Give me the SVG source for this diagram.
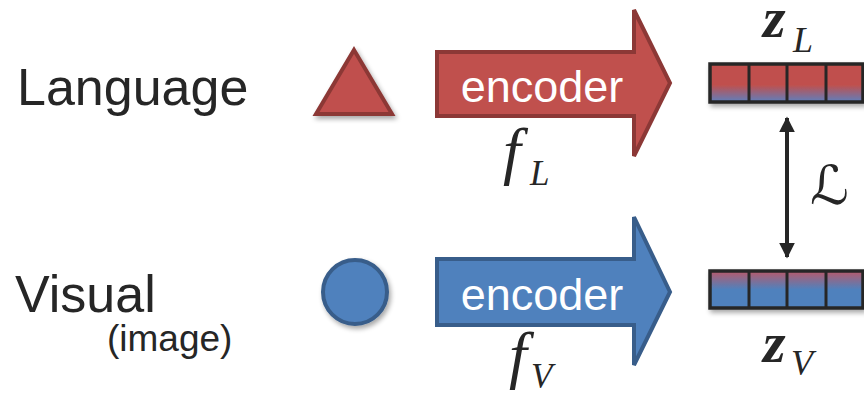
<svg xmlns="http://www.w3.org/2000/svg" width="864" height="395" viewBox="0 0 864 395">
<style>
.lbl{font-family:"Liberation Sans",Arial,sans-serif;fill:#262626}
.enc{font-family:"Liberation Sans",Arial,sans-serif;fill:#ffffff;font-size:45px;text-anchor:middle}
.math{font-family:"Liberation Serif","DejaVu Serif",serif;font-style:italic;fill:#262626}
.bold{font-family:"Liberation Serif","DejaVu Serif",serif;font-style:italic;font-weight:bold;fill:#262626}
.red{fill:#C0504D;stroke:#8C3836;stroke-width:4;stroke-linejoin:miter}
.blue{fill:#4F81BD;stroke:#385D8A;stroke-width:4;stroke-linejoin:miter}
.vec{stroke:#262626;stroke-width:3.5}
.cell{stroke:#262626;stroke-width:3}
</style>
<defs>
<filter id="sh" x="-20%" y="-20%" width="150%" height="160%">
<feGaussianBlur in="SourceAlpha" stdDeviation="2.5"/>
<feOffset dx="2" dy="3" result="b"/>
<feComponentTransfer><feFuncA type="linear" slope="0.35"/></feComponentTransfer>
<feMerge><feMergeNode/><feMergeNode in="SourceGraphic"/></feMerge>
</filter>
<linearGradient id="gL" x1="0" y1="0" x2="0" y2="1">
<stop offset="0" stop-color="#C0504D"/>
<stop offset="0.55" stop-color="#C0504D"/>
<stop offset="1" stop-color="#5E7FBE"/>
</linearGradient>
<linearGradient id="gV" x1="0" y1="0" x2="0" y2="1">
<stop offset="0" stop-color="#B85A6A"/>
<stop offset="0.5" stop-color="#4F81BD"/>
<stop offset="1" stop-color="#4F81BD"/>
</linearGradient>
<marker id="ah" viewBox="0 0 10 10" refX="9" refY="5" markerWidth="4" markerHeight="4" orient="auto-start-reverse">
<path d="M0,0 L10,5 L0,10 z" fill="#262626"/>
</marker>
</defs>

<g id="label-language"><text class="lbl" x="17" y="105" font-size="52">Language</text></g>
<g id="label-visual">
<text class="lbl" x="15" y="312" font-size="52">Visual</text>
<text class="lbl" x="107" y="351" font-size="37">(image)</text>
</g>

<g id="triangle"><polygon class="red" points="354,50 392,114 316,114" filter="url(#sh)"/></g>
<g id="circle"><circle class="blue" cx="355" cy="292" r="32" filter="url(#sh)"/></g>

<g id="encoder-L">
<path class="red" d="M437,52 L634,52 L634,10 L670,83 L634,156 L634,116 L437,116 Z"/>
<text class="enc" x="542" y="102">encoder</text>
<text class="math" x="503" y="172" font-size="64">f</text>
<text class="math" x="530" y="185" font-size="35">L</text>
</g>
<g id="encoder-V">
<path class="blue" d="M437,259 L634,259 L634,217 L670,292 L634,365 L634,325 L437,325 Z"/>
<text class="enc" x="542" y="310">encoder</text>
<text class="math" x="509" y="376" font-size="64">f</text>
<text class="math" x="531" y="388" font-size="35">V</text>
</g>

<g id="vector-zL">
<g filter="url(#sh)">
<rect class="vec" x="710" y="64" width="153" height="38" fill="url(#gL)"/>
</g>
<line class="cell" x1="749" y1="64" x2="749" y2="102"/>
<line class="cell" x1="787" y1="64" x2="787" y2="102"/>
<line class="cell" x1="826" y1="64" x2="826" y2="102"/>
<text class="bold" x="763" y="37" font-size="58">z</text>
<text class="math" x="793" y="52" font-size="36">L</text>
</g>
<g id="vector-zV">
<g filter="url(#sh)">
<rect class="vec" x="710" y="271" width="153" height="37" fill="url(#gV)"/>
</g>
<line class="cell" x1="749" y1="271" x2="749" y2="308"/>
<line class="cell" x1="787" y1="271" x2="787" y2="308"/>
<line class="cell" x1="826" y1="271" x2="826" y2="308"/>
<text class="bold" x="763" y="362" font-size="58">z</text>
<text class="math" x="791" y="375" font-size="36">V</text>
</g>

<g id="connectors">
<line x1="787" y1="118" x2="787" y2="257" stroke="#262626" stroke-width="4" marker-start="url(#ah)" marker-end="url(#ah)"/>
<text x="810" y="204" font-size="54" font-family="DejaVu Sans" fill="#262626">ℒ</text>
</g>
</svg>
